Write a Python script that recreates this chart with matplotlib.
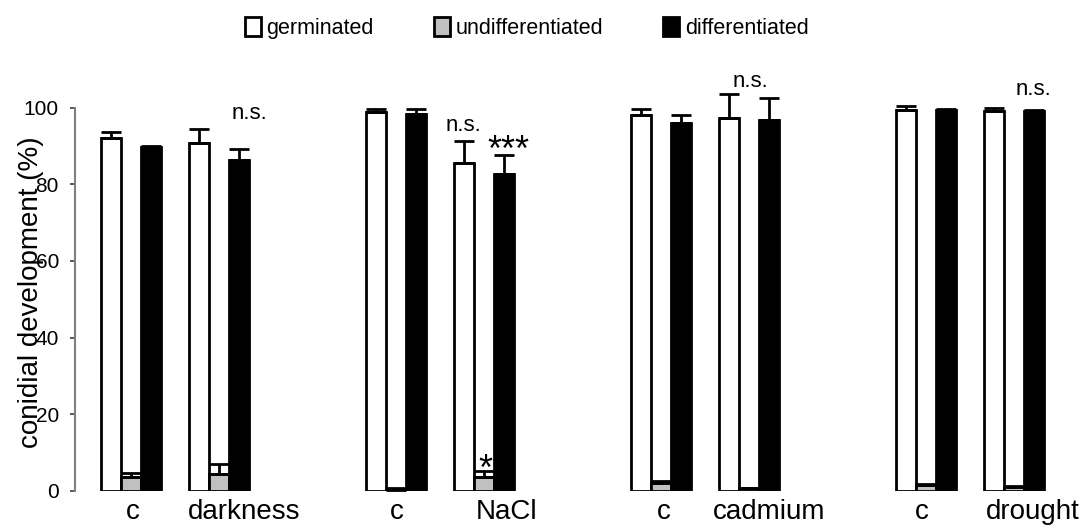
import numpy as np
from matplotlib import pyplot as plt

plt.rcParams['font.family'] = ['Liberation Sans', 'DejaVu Sans']

# conditions (each stress has its own control "c")
conditions = ["c", "darkness", "c", "NaCl", "c", "cadmium", "c", "drought"]
series = ["germinated", "undifferentiated", "differentiated"]

germinated = [92.1, 90.7, 98.9, 85.5, 98.1, 97.4, 99.4, 99.1]
germinated_err = [1.5, 3.6, 0.7, 5.9, 1.5, 6.1, 1.0, 0.7]
undifferentiated = [3.7, 4.4, 0.3, 3.6, 2.0, 0.8, 1.5, 1.1]
undifferentiated_err = [1.0, 2.6, 0.5, 1.7, 0.6, 0.1, 0.3, 0.1]
differentiated = [89.7, 86.3, 98.3, 82.7, 96.1, 96.8, 99.4, 99.1]
differentiated_err = [0.3, 2.8, 1.3, 4.9, 2.1, 5.6, 0.3, 0.2]

# significance marks: (text, x, y, fontsize)
marks = [
    ("n.s.", 5.9, 98.5, 16),
    ("n.s.", 16.6, 95.3, 16),
    ("***", 18.85, 88.5, 26),
    ("*", 17.7, 5.3, 26),
    ("n.s.", 30.95, 106.9, 16),
    ("n.s.", 45.1, 104.7, 16),
]

values = [germinated, undifferentiated, differentiated]
errors = [germinated_err, undifferentiated_err, differentiated_err]
colors = ["white", "#c0c0c0", "black"]

# layout: pairs of conditions, pairs grouped per stress
centers = np.array([(i // 2) * 13.25 + (i % 2) * 4.4 for i in range(len(conditions))])
label_shift = [0.1, 1.25, 0.05, 1.15, 0.15, 1.0, -0.2, 0.95]

fig = plt.figure(figsize=(10.86, 5.28), dpi=100)
ax = fig.add_axes([75 / 1086, 37 / 528, 1000 / 1086, 0.7987])

handles = []
for k in range(3):
    err = np.array(errors[k])
    b = ax.bar(centers + (k - 1), values[k], width=1.0, color=colors[k],
               edgecolor="black", linewidth=2,
               yerr=[np.zeros_like(err), err],
               error_kw=dict(ecolor="black", elinewidth=2, capsize=7.5, capthick=2),
               label=series[k])
    handles.append(b)

for txt, x, y, fs in marks:
    ax.text(x, y, txt, ha="center", va="center", fontsize=fs)

ax.set_xlim(-2.8, 47.2)
ax.set_ylim(0, 110)
ax.set_yticks([0, 20, 40, 60, 80, 100])
ax.set_xticks(centers + np.array(label_shift))
ax.set_xticklabels(conditions, fontsize=20)
ax.tick_params(axis="x", length=0, pad=6)
ax.tick_params(axis="y", labelsize=15, length=3.6, width=1.2, color="#404040", pad=8)

for s in ["top", "right", "bottom"]:
    ax.spines[s].set_visible(False)
ax.spines["left"].set_color("#808080")
ax.spines["left"].set_linewidth(1.5)
ax.spines["left"].set_bounds(0, 100)

ax.set_ylabel("conidial development (%)", fontsize=20)
ax.yaxis.set_label_coords(-0.031, 0.4707)

fig.legend(handles, series, loc="center", bbox_to_anchor=(0.4848, 0.947),
           ncol=3, frameon=False, fontsize=15.5, handlelength=0.75,
           handleheight=0.95, handletextpad=0.25, columnspacing=2.8)

plt.savefig("out.png", dpi=100)
